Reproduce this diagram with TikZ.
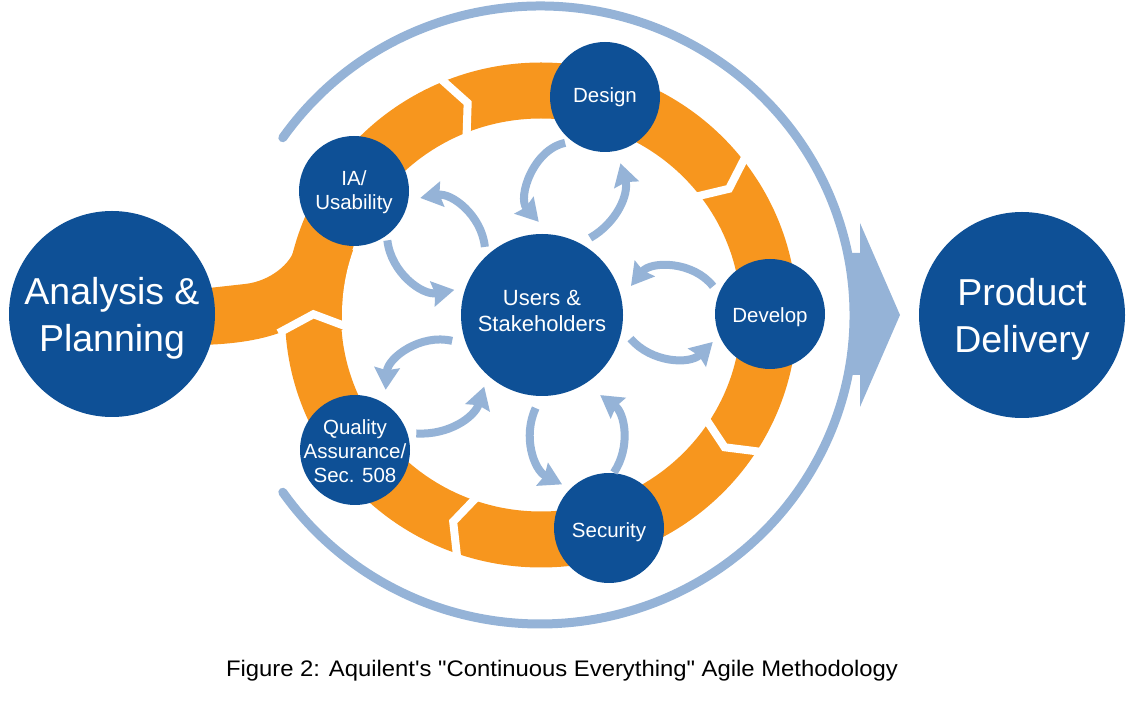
\documentclass[tikz,border=0pt]{standalone}
\usepackage{graphicx}
\usepackage{fontspec}
\setmainfont{Liberation Sans}
\newfontfamily\capfont{Liberation Sans}[Ligatures=TeXOff]
\usetikzlibrary{arrows.meta,calc}
\definecolor{hubblue}{RGB}{14,80,150}
\definecolor{ringorange}{RGB}{247,150,30}
\definecolor{paleblue}{RGB}{149,179,215}
\tikzset{
  hub/.style={circle, fill=hubblue, draw=none, inner sep=0pt, minimum size=#1},
  bigtxt/.style={text=white, align=center, inner sep=0pt, font=\fontsize{37.5}{47}\selectfont},
  midtxt/.style={text=white, align=center, inner sep=0pt, font=\fontsize{22}{26}\selectfont},
  smalltxt/.style={text=white, align=center, inner sep=0pt, font=\fontsize{20.5}{24}\selectfont},
  loopar/.style={draw=paleblue, line width=8pt, -{Stealth[width=25pt,length=22pt,inset=2.5pt]}},
  gapline/.style={draw=white, line width=8pt, line join=miter},
}
\begin{document}
\begin{tikzpicture}[x=1pt,y=1pt]
\useasboundingbox (0,0) rectangle (1127,720);
% orange band from Analysis & Planning into the ring
\fill[ringorange] (200,431) -- (245,436) .. controls (272,439) and (291,458) .. (294,470)
  -- (380,470) -- (380,390) -- (287,390) .. controls (270,383) and (245,376) .. (200,375) -- cycle;
\fill[white] (541,405) ellipse[x radius=199, y radius=195.5];
% orange ring
\draw[ringorange, line width=56pt] (541,405) ellipse[x radius=228, y radius=224.5];
% chevron gaps
\begin{scope}[shift={(541,405)}, xscale=1.016]
  \foreach \g in {113,38.5,-32,-108.5,-176}{
    \draw[gapline] (\g:259) -- ({\g-4.2}:224) -- (\g:188);
  }
\end{scope}
% outer light-blue arc and delivery arrow
\draw[paleblue, line width=9pt, line cap=round] (540,405) ++(145:314 and 309)
  arc[start angle=145, end angle=-145, x radius=314, y radius=309];
\fill[paleblue] (850,467) -- (860,467) -- (860,497) -- (900,405) -- (860,313) -- (860,345) -- (850,345) -- cycle;
% nodes
\node[hub=206, label={[bigtxt, yshift=-4pt]center:{Analysis \&\\Planning}}] (ap) at (112,406) {};
\node[hub=206, label={[bigtxt, yshift=-4pt]center:{Product\\Delivery}}] (pd) at (1022,405) {};
\node[hub=162, label={[midtxt, yshift=4pt]center:{Users \&\\Stakeholders}}] (users) at (542,405) {};
\node[hub=110, label={[smalltxt]center:{Design}}] (design) at (605,623) {};
\node[hub=110, label={[smalltxt, yshift=-1pt]center:{IA/\\Usability}}] (ia) at (354,529) {};
\node[hub=110, label={[smalltxt, yshift=-3.5pt]center:{Develop}}] (develop) at (770,406) {};
\node[hub=110, label={[smalltxt, yshift=-4pt]center:{Security}}] (security) at (609,192) {};
\node[hub=110, label={[smalltxt, yshift=-1pt]center:{Quality\\Assurance/\\Sec. 508}}] (qa) at (355,270) {};
% feedback arrows
\draw[loopar] ([shift={(229.3:5.6)}]design.229.3) to[bend right=60] ([shift={(92:12)}]users.92);
\draw[loopar] ([shift={(58.1:9.7)}]users.58.1) to[bend right=38] ([shift={(283.6:12.9)}]design.283.6);
\draw[loopar] ([shift={(130:7.7)}]users.130) to[bend right=47] ([shift={(354:11.4)}]ia.354);
\draw[loopar] ([shift={(304.4:4.4)}]ia.304.4) to[bend right=47] ([shift={(164:10)}]users.164);
\draw[loopar] ([shift={(154.7:8.1)}]develop.154.7) to[bend right=52] ([shift={(18.7:12.4)}]users.18.7);
\draw[loopar] ([shift={(345.4:10.4)}]users.345.4) to[bend right=47] ([shift={(206.2:8.5)}]develop.206.2);
\draw[loopar] ([shift={(196.6:12.3)}]users.196.6) to[bend right=50] ([shift={(63:12.4)}]qa.63);
\draw[loopar] ([shift={(15.6:8.3)}]qa.15.6) to[bend right=38] ([shift={(231.6:10.8)}]users.231.6);
\draw[loopar] ([shift={(266.8:12.1)}]users.266.8) to[bend right=44] ([shift={(137.7:8.9)}]security.137.7);
\draw[loopar] ([shift={(85.8:0.5)}]security.85.8) to[bend right=44] ([shift={(306:17.8)}]users.306);
% caption
\node[anchor=base, inner sep=0pt, font=\capfont\fontsize{22.5}{27}\selectfont] (cap) at (562,43)
  {\scalebox{1.06}[1]{Figure 2: Aquilent's "Continuous Everything" Agile Methodology}};
\end{tikzpicture}
\end{document}
